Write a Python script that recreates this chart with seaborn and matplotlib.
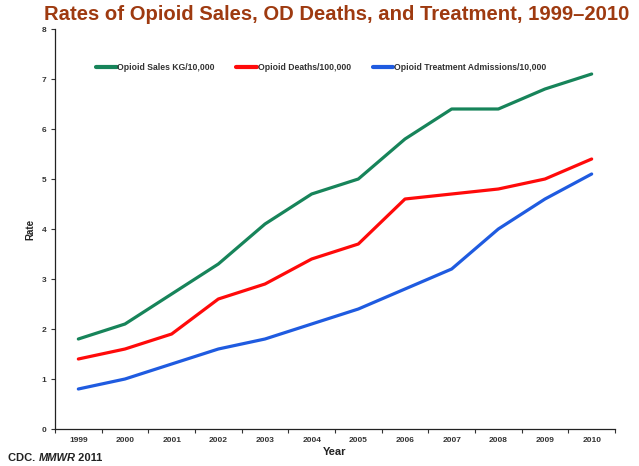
import matplotlib
matplotlib.use("Agg")
import matplotlib.pyplot as plt
import seaborn as sns
import pandas as pd
import numpy as np

years = ["1999", "2000", "2001", "2002", "2003", "2004",
         "2005", "2006", "2007", "2008", "2009", "2010"]
sales = [1.8, 2.1, 2.7, 3.3, 4.1, 4.7, 5.0, 5.8, 6.4, 6.4, 6.8, 7.1]
deaths = [1.4, 1.6, 1.9, 2.6, 2.9, 3.4, 3.7, 4.6, 4.7, 4.8, 5.0, 5.4]
treatment = [0.8, 1.0, 1.3, 1.6, 1.8, 2.1, 2.4, 2.8, 3.2, 4.0, 4.6, 5.1]
series_names = ["Opioid Sales KG/10,000", "Opioid Deaths/100,000",
                "Opioid Treatment Admissions/10,000"]
colors = ["#17845A", "#FF0A0A", "#1F5BE0"]

df = pd.DataFrame({
    "Year": years * 3,
    "Rate": sales + deaths + treatment,
    "Series": [series_names[0]] * 12 + [series_names[1]] * 12 + [series_names[2]] * 12,
})
df["pos"] = df["Year"].map({y: i for i, y in enumerate(years)})

sns.set_style("white")
plt.rcParams["font.family"] = ["Liberation Sans", "DejaVu Sans"]

fig = plt.figure(figsize=(6.39, 4.66), dpi=100)
ax = fig.add_axes([55 / 639, 37 / 466, 560 / 639, 400 / 466])

sns.lineplot(data=df, x="pos", y="Rate", hue="Series", hue_order=series_names,
             palette=colors, linewidth=2.3, ax=ax, legend=True)

ax.set_xlim(-0.5, 11.5)
ax.set_ylim(0, 8)
ax.set_yticks(range(0, 9))
ax.tick_params(axis="y", labelsize=6, length=3, width=0.8, direction="out",
               colors="#333333", pad=3, left=True)
ax.set_xticks(np.arange(-0.5, 12, 1))
ax.set_xticklabels([])
ax.tick_params(axis="x", which="major", length=3, width=0.8, direction="out",
               bottom=True, colors="#333333")
ax.set_xticks(np.arange(12), minor=True)
ax.set_xticklabels(years, minor=True, fontsize=6, fontweight="bold", color="#333333")
ax.tick_params(axis="x", which="minor", length=0, pad=6)
for lbl in ax.get_yticklabels():
    lbl.set_fontweight("bold")

for side in ["top", "right"]:
    ax.spines[side].set_visible(False)
for side in ["left", "bottom"]:
    ax.spines[side].set_color("#222222")
    ax.spines[side].set_linewidth(0.9)

ax.set_xlabel("Year", fontsize=8, fontweight="bold", labelpad=2, color="#222222")
ax.set_ylabel("Rate", fontsize=7, fontweight="bold", labelpad=5, color="#222222")

leg = ax.legend(loc="center left", bbox_to_anchor=(0.073, 0.903), ncol=3, frameon=False,
                handlelength=2.4, handletextpad=0.05, columnspacing=2.55,
                borderaxespad=0, borderpad=0, prop={"weight": "bold", "size": 6.2})
for t in leg.get_texts():
    t.set_color("#333333")
for h in leg.get_lines():
    h.set_linewidth(3)

fig.text(0.527, 1 - 15 / 466, "Rates of Opioid Sales, OD Deaths, and Treatment, 1999\u20132010",
         ha="center", va="center", fontsize=14.6, fontweight="bold", color="#9E3A10")

# Source note: plain, italic journal name, plain year laid out left to right
fig.canvas.draw()
renderer = fig.canvas.get_renderer()
x = 8 / 639
ynote = 1 - 458 / 466
for part, style in [("CDC.\u00a0", "normal"), ("MMWR", "italic"), ("\u00a02011", "normal")]:
    t = fig.text(x, ynote, part, ha="left", va="center", fontsize=8,
                 fontweight="bold", style=style, color="#222222")
    bb = t.get_window_extent(renderer=renderer)
    x = fig.transFigure.inverted().transform((bb.x1, bb.y0))[0]

fig.savefig("out.png", dpi=100, facecolor="white")
